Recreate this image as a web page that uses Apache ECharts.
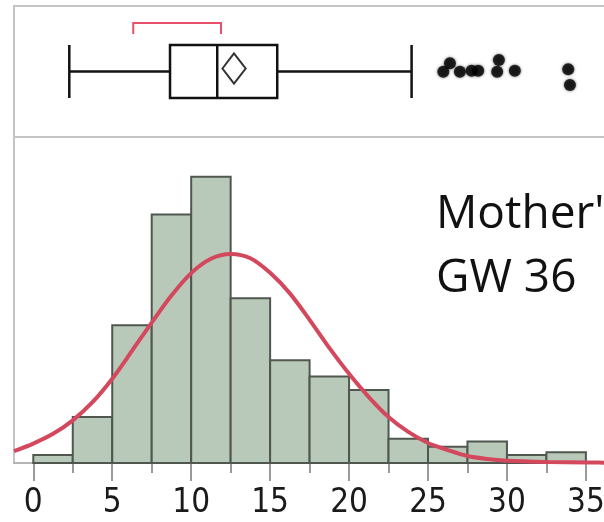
<!DOCTYPE html>
<html>
<head>
<meta charset="utf-8">
<script src="https://cdn.jsdelivr.net/npm/echarts@6/dist/echarts.min.js"></script>
<style>
  html, body { margin: 0; padding: 0; background: #fff; }
  #main { width: 604px; height: 522px; }
</style>
</head>
<body>
<div id="main"></div>
<script>
// histogram bins (left edges, width 2.5) and counts
var binStarts = [0, 2.5, 5, 7.5, 10, 12.5, 15, 17.5, 20, 22.5, 25, 27.5, 30, 32.5];
var binWidth = 2.5;
var binCounts = [3, 17, 51, 92, 106, 61, 38, 32, 27, 9, 6, 8, 3, 4];

// fitted normal curve
var curveX = [-1.22, 0, 1.25, 2.5, 3.75, 5, 6.25, 7.5, 8.75, 10, 11.25, 12.5, 13.75, 15,
              16.25, 17.5, 18.75, 20, 21.25, 22.5, 23.75, 25, 26.25, 27.5, 28.75, 30, 32.5, 35, 36.8];
var curveY = [4.4, 7.2, 10.8, 15.8, 22.5, 31.2, 41.5, 52.0, 62.0, 70.3, 75.6, 77.4, 75.8, 70.4,
              62.8, 53.0, 42.6, 33.0, 24.4, 17.0, 11.5, 7.4, 4.8, 2.6, 1.5, 0.85, 0.4, 0.2, 0.1];

// box plot: whisker low, q1, median, q3, whisker high
var boxStats = [2.28, 8.66, 11.65, 15.45, 23.96];
var meanValue = 12.71;
var meanCI = [11.98, 13.45];
var shortestHalf = [6.33, 11.89];

// outliers with vertical jitter
var outlierX = [25.97, 26.39, 27.02, 27.76, 28.18, 29.49, 29.38, 30.5, 33.88, 33.99];
var outlierJitter = [0.498, 0.563, 0.498, 0.506, 0.506, 0.588, 0.498, 0.506, 0.517, 0.397];

var majorTicks = [0, 5, 10, 15, 20, 25, 30, 35];
var minorTicks = [2.5, 7.5, 12.5, 17.5, 22.5, 27.5, 32.5];

var xMin = -1.222, xMax = 36.78;

var histData = [];
for (var i = 0; i < binStarts.length; i++) {
    histData.push([binStarts[i], binStarts[i] + binWidth, binCounts[i]]);
}
var curveData = [];
for (var i = 0; i < curveX.length; i++) {
    curveData.push([curveX[i], curveY[i]]);
}
var outlierData = [];
for (var i = 0; i < outlierX.length; i++) {
    outlierData.push([outlierX[i], outlierJitter[i]]);
}

var myChart = echarts.init(document.getElementById('main'), null, { renderer: 'canvas' });

myChart.setOption({
    animation: false,
    backgroundColor: '#ffffff',
    grid: [
        { left: 14, width: 600, top: 6, height: 131, outerBoundsMode: 'none', containLabel: false,
          show: true, borderColor: '#c4c4c4', borderWidth: 2, backgroundColor: 'transparent' },
        { left: 14, width: 600, top: 137, height: 326, outerBoundsMode: 'none', containLabel: false,
          show: true, borderColor: '#c4c4c4', borderWidth: 2, backgroundColor: 'transparent' }
    ],
    xAxis: [
        { gridIndex: 0, type: 'value', min: xMin, max: xMax, show: false },
        {
            gridIndex: 1, type: 'value', min: xMin, max: xMax, position: 'bottom',
            axisLine: { show: true, onZero: false, lineStyle: { color: '#b4b4b4', width: 2 } },
            axisTick: { show: true, customValues: majorTicks, length: 18, lineStyle: { color: '#9a9a9a', width: 2 } },
            axisLabel: {
                customValues: majorTicks, fontSize: 33, margin: 24, color: '#1a1a1a',
                fontFamily: '"DejaVu Sans Condensed", "Liberation Sans Narrow", sans-serif'
            },
            splitLine: { show: false }
        },
        {
            gridIndex: 1, type: 'value', min: xMin, max: xMax, position: 'bottom', offset: 0,
            axisLine: { show: false },
            axisTick: { show: true, customValues: minorTicks, length: 10, lineStyle: { color: '#9a9a9a', width: 2 } },
            axisLabel: { show: false },
            splitLine: { show: false }
        }
    ],
    yAxis: [
        { gridIndex: 0, type: 'value', min: 0, max: 1, show: false },
        { gridIndex: 1, type: 'value', min: 0, max: 120.7, show: false }
    ],
    graphic: [
        { type: 'text', left: 436, top: 192, style: { text: "Mother's", font: '46px "Open Sans"', fill: '#111' } },
        { type: 'text', left: 436, top: 256, style: { text: 'GW 36', font: '46px "Open Sans"', fill: '#111' } }
    ],
    series: [
        {
            // histogram bars
            type: 'custom',
            xAxisIndex: 1, yAxisIndex: 1,
            data: histData,
            renderItem: function (params, api) {
                var p0 = api.coord([api.value(0), api.value(2)]);
                var p1 = api.coord([api.value(1), 0]);
                return {
                    type: 'rect',
                    shape: { x: p0[0], y: p0[1], width: p1[0] - p0[0], height: p1[1] - p0[1] },
                    style: { fill: '#b9c9b9', stroke: '#4f574f', lineWidth: 2 }
                };
            }
        },
        {
            type: 'line',
            xAxisIndex: 1, yAxisIndex: 1,
            data: curveData,
            smooth: 0.3,
            showSymbol: false,
            lineStyle: { color: '#d4485e', width: 4 },
            z: 5
        },
        {
            // box, whiskers, median, mean diamond, shortest half bracket
            type: 'custom',
            xAxisIndex: 0, yAxisIndex: 0,
            data: [[0.5]],
            renderItem: function (params, api) {
                var cy = api.coord([0, 0.5])[1];
                var h = 26.5;
                var x = boxStats.map(function (v) { return api.coord([v, 0.5])[0]; });
                var m = api.coord([meanValue, 0.5])[0];
                var c0 = api.coord([meanCI[0], 0.5])[0];
                var c1 = api.coord([meanCI[1], 0.5])[0];
                var s0 = api.coord([shortestHalf[0], 0.5])[0];
                var s1 = api.coord([shortestHalf[1], 0.5])[0];
                var black = { stroke: '#111', lineWidth: 2.5, fill: null };
                return {
                    type: 'group',
                    children: [
                        { type: 'line', shape: { x1: x[0], y1: cy, x2: x[1], y2: cy }, style: black },
                        { type: 'line', shape: { x1: x[3], y1: cy, x2: x[4], y2: cy }, style: black },
                        { type: 'line', shape: { x1: x[0], y1: cy - h, x2: x[0], y2: cy + h }, style: black },
                        { type: 'line', shape: { x1: x[4], y1: cy - h, x2: x[4], y2: cy + h }, style: black },
                        { type: 'rect', shape: { x: x[1], y: cy - h, width: x[3] - x[1], height: 2 * h }, style: black },
                        { type: 'line', shape: { x1: x[2], y1: cy - h, x2: x[2], y2: cy + h }, style: black },
                        {
                            type: 'polygon',
                            shape: { points: [[c0, cy - 3], [m, cy - 18], [c1, cy - 3], [m, cy + 12]] },
                            style: { stroke: '#333', lineWidth: 2, fill: null }
                        },
                        {
                            type: 'polyline',
                            shape: { points: [[s0, 34], [s0, 23], [s1, 23], [s1, 34]] },
                            style: { stroke: '#e8506a', lineWidth: 2, fill: null }
                        }
                    ]
                };
            }
        },
        {
            type: 'scatter',
            xAxisIndex: 0, yAxisIndex: 0,
            data: outlierData,
            symbolSize: 12,
            itemStyle: { color: '#000', shadowBlur: 3, shadowColor: 'rgba(0,0,0,0.7)' }
        }
    ]
});
</script>
</body>
</html>
